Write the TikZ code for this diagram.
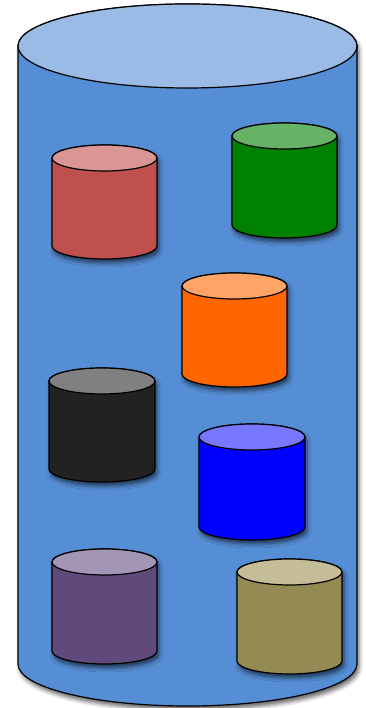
\documentclass[tikz,border=0pt]{standalone}
\usetikzlibrary{shadows.blur}
\definecolor{bigside}{HTML}{558ED5}
\definecolor{bigtop}{HTML}{9ABBE5}
\definecolor{redside}{HTML}{C0504D}
\definecolor{redtop}{HTML}{D99694}
\definecolor{greenside}{HTML}{008000}
\definecolor{greentop}{HTML}{66B266}
\definecolor{orangeside}{HTML}{FF6600}
\definecolor{orangetop}{HTML}{FFA366}
\definecolor{blackside}{HTML}{222222}
\definecolor{blacktop}{HTML}{808080}
\definecolor{blueside}{HTML}{0000FF}
\definecolor{bluetop}{HTML}{7777FF}
\definecolor{purpleside}{HTML}{604A7B}
\definecolor{purpletop}{HTML}{A396B5}
\definecolor{oliveside}{HTML}{948A54}
\definecolor{olivetop}{HTML}{C4BD97}
\tikzset{
  cylside/.style={draw=black, line width=1.2pt, blur shadow={shadow xshift=2pt, shadow yshift=-4pt, shadow blur radius=4pt, shadow opacity=60}},
  cyltop/.style={draw=black, line width=1.2pt}
}
% #1 left, #2 top (px from top), #3 width, #4 bottom (px from top), #5 ry, #6 side colour, #7 top colour
\newcommand{\mycyl}[7]{%
  \pgfmathsetmacro{\cyA}{708-#2-#5}%
  \pgfmathsetmacro{\cyB}{708-#4+#5}%
  \pgfmathsetmacro{\cxR}{#1+#3}%
  \pgfmathsetmacro{\cxM}{#1+#3/2}%
  \pgfmathsetmacro{\crx}{#3/2}%
  \path[cylside, fill=#6] (#1,\cyA) -- (#1,\cyB)
    arc[start angle=180, end angle=360, x radius=\crx pt, y radius=#5 pt]
    -- (\cxR,\cyA)
    arc[start angle=0, end angle=180, x radius=\crx pt, y radius=#5 pt] -- cycle;
  \path[cyltop, fill=#7] (\cxM,\cyA) ellipse[x radius=\crx pt, y radius=#5 pt];
}
\begin{document}
\begin{tikzpicture}[x=1pt,y=1pt]
\useasboundingbox (0,0) rectangle (365,708);
\mycyl{18}{4}{339}{706}{42}{bigside}{bigtop}
\mycyl{52}{145}{105}{259}{13}{redside}{redtop}
\mycyl{232}{123}{105}{238}{13}{greenside}{greentop}
\mycyl{182}{273}{105}{387}{13}{orangeside}{orangetop}
\mycyl{49}{368}{106}{482}{13}{blackside}{blacktop}
\mycyl{199}{424}{106}{540}{13}{blueside}{bluetop}
\mycyl{52}{549}{105}{664}{13}{purpleside}{purpletop}
\mycyl{237}{559}{105}{674}{13}{oliveside}{olivetop}
\end{tikzpicture}
\end{document}
